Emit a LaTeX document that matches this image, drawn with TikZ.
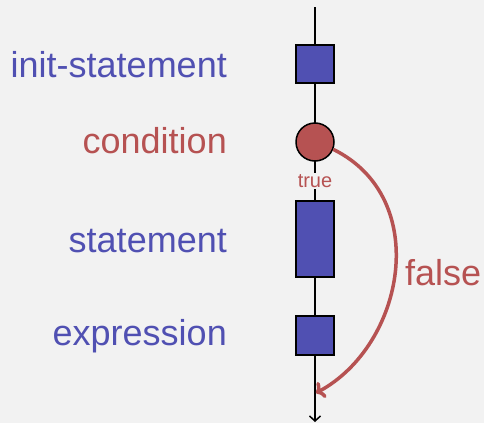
\documentclass[tikz,border=0pt]{standalone}
\usepackage{fontspec}
\setmainfont{Liberation Sans}
\usetikzlibrary{arrows.meta}
\definecolor{bg}{HTML}{F2F2F2}
\definecolor{fblue}{HTML}{5050B2}
\definecolor{fred}{HTML}{B65252}
\tikzset{
  blk/.style={draw=black, line width=1.5pt, fill=fblue, minimum width=38pt, inner sep=0pt},
  lbl/.style={anchor=base east, font=\fontsize{36}{40}\selectfont, inner sep=0pt},
}
\begin{document}
\begin{tikzpicture}[x=1pt,y=-1pt]
\fill[bg] (0,0) rectangle (484,423);
\useasboundingbox (0,0) rectangle (484,423);
\coordinate (top) at (315,7);
\coordinate (bot) at (315,422);
\draw[line width=1.5pt, -{Straight Barb[length=5pt,width=11pt]}] (top) -- (bot);
\node[blk, minimum height=38pt] (init) at (315,64) {};
\node[circle, draw=black, line width=1.5pt, fill=fred, minimum size=38pt, inner sep=0pt] (cond) at (315,142) {};
\node[fill=bg, text=fred, font=\fontsize{20}{22}\selectfont, inner sep=1pt] (true) at (315,181) {true};
\node[blk, minimum height=76pt] (stmt) at (315,239) {};
\node[blk, minimum height=39pt] (expr) at (315,335.5) {};
\coordinate (ret) at (316,393);
\draw[fred, line width=3.5pt, -{To[length=8pt,width=18pt]}]
  (cond.-22) .. controls (432,198) and (405,345) .. (ret);
\node[lbl, text=fblue] (l1) at (227,77) {init-statement};
\node[lbl, text=fred] (l2) at (227,153) {condition};
\node[lbl, text=fblue] (l3) at (227,252) {statement};
\node[lbl, text=fblue] (l4) at (227,345) {expression};
\node[anchor=base west, text=fred, font=\fontsize{36}{40}\selectfont, inner sep=0pt] (fl) at (405,285) {false};
\end{tikzpicture}
\end{document}
